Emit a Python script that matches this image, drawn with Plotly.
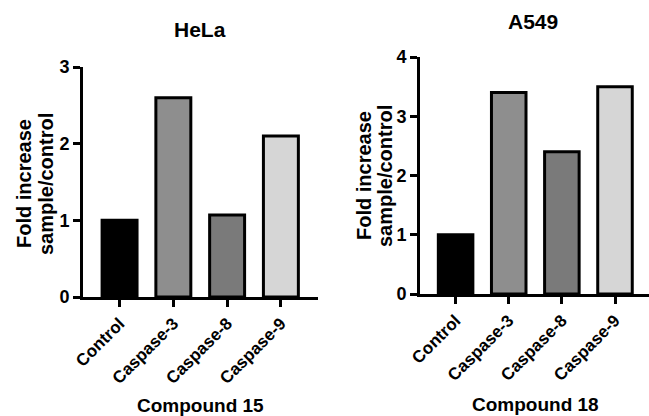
import plotly.graph_objects as go

W, H = 649, 416

categories = ["Control", "Caspase-3", "Caspase-8", "Caspase-9"]
hela_values = [1.0, 2.6, 1.07, 2.1]
a549_values = [1.0, 3.4, 2.4, 3.5]
bar_colors = ["#000000", "#8e8e8e", "#7a7a7a", "#d6d6d6"]
panel_titles = ["HeLa", "A549"]
x_titles = ["Compound 15", "Compound 18"]
y_title_lines = ["Fold increase", "sample/control"]
hela_ticks = [0, 1, 2, 3]
a549_ticks = [0, 1, 2, 3, 4]

FONT = "Liberation Sans, Arial, sans-serif"

def px(x):
    return x / W

def py(y):
    return 1 - y / H

def bold(items):
    return ["<b>%s</b>" % i for i in items]

fig = go.Figure()
fig.add_trace(go.Bar(x=categories, y=hela_values, marker=dict(color=bar_colors, line=dict(color="black", width=3)),
                     width=0.65, xaxis="x", yaxis="y", showlegend=False))
fig.add_trace(go.Bar(x=categories, y=a549_values, marker=dict(color=bar_colors, line=dict(color="black", width=3)),
                     width=0.65, xaxis="x2", yaxis="y2", showlegend=False))

xcommon = dict(showgrid=False, zeroline=False, showline=True, linecolor="black", linewidth=3,
               ticks="outside", ticklen=7, tickwidth=2.5, tickcolor="black", tickangle=-45,
               tickvals=categories, ticktext=bold(categories), automargin=False,
               tickfont=dict(family=FONT, size=17, color="black"), fixedrange=True)
ycommon = dict(showgrid=False, zeroline=False, showline=True, linecolor="black", linewidth=3,
               ticks="outside", ticklen=7, tickwidth=2.5, tickcolor="black", automargin=False,
               tickfont=dict(family=FONT, size=18, color="black"), fixedrange=True)

fig.update_layout(
    template="none",
    width=W, height=H, margin=dict(l=0, r=0, t=0, b=0),
    paper_bgcolor="white", plot_bgcolor="white",
    font=dict(family=FONT, color="black"),
    xaxis=dict(domain=[px(83), px(318)], range=[-0.68, 3.69], anchor="y", **xcommon),
    yaxis=dict(domain=[py(297), py(67)], range=[0, 3], tickvals=hela_ticks,
               ticktext=bold(hela_ticks), anchor="x", **ycommon),
    xaxis2=dict(domain=[px(420), 1.0], range=[-0.67, 3.64], anchor="y2", **xcommon),
    yaxis2=dict(domain=[py(294), py(57)], range=[0, 4], tickvals=a549_ticks,
                ticktext=bold(a549_ticks), anchor="x2", **ycommon),
)

ann = []
for t, (cx, cy) in zip(panel_titles, [(200, 30), (533, 21)]):
    ann.append(dict(text="<b>%s</b>" % t, x=px(cx), y=py(cy), xref="paper", yref="paper",
                    showarrow=False, xanchor="center", yanchor="middle",
                    font=dict(family=FONT, size=21, color="black")))
for t, (cx, cy) in zip(x_titles, [(200, 405), (535, 404)]):
    ann.append(dict(text="<b>%s</b>" % t, x=px(cx), y=py(cy), xref="paper", yref="paper",
                    showarrow=False, xanchor="center", yanchor="middle",
                    font=dict(family=FONT, size=19, color="black")))
for (x1, x2, cy) in [(24, 46, 184), (364, 385, 176)]:
    for t, cx in zip(y_title_lines, [x1, x2]):
        ann.append(dict(text="<b>%s</b>" % t, x=px(cx), y=py(cy), xref="paper", yref="paper",
                        showarrow=False, xanchor="center", yanchor="middle", textangle=-90,
                        font=dict(family=FONT, size=20, color="black")))
fig.update_layout(annotations=ann)

fig.write_html("out.html", config={"displayModeBar": False},
               post_script="document.body.style.margin='0px';document.body.style.overflow='hidden';")
